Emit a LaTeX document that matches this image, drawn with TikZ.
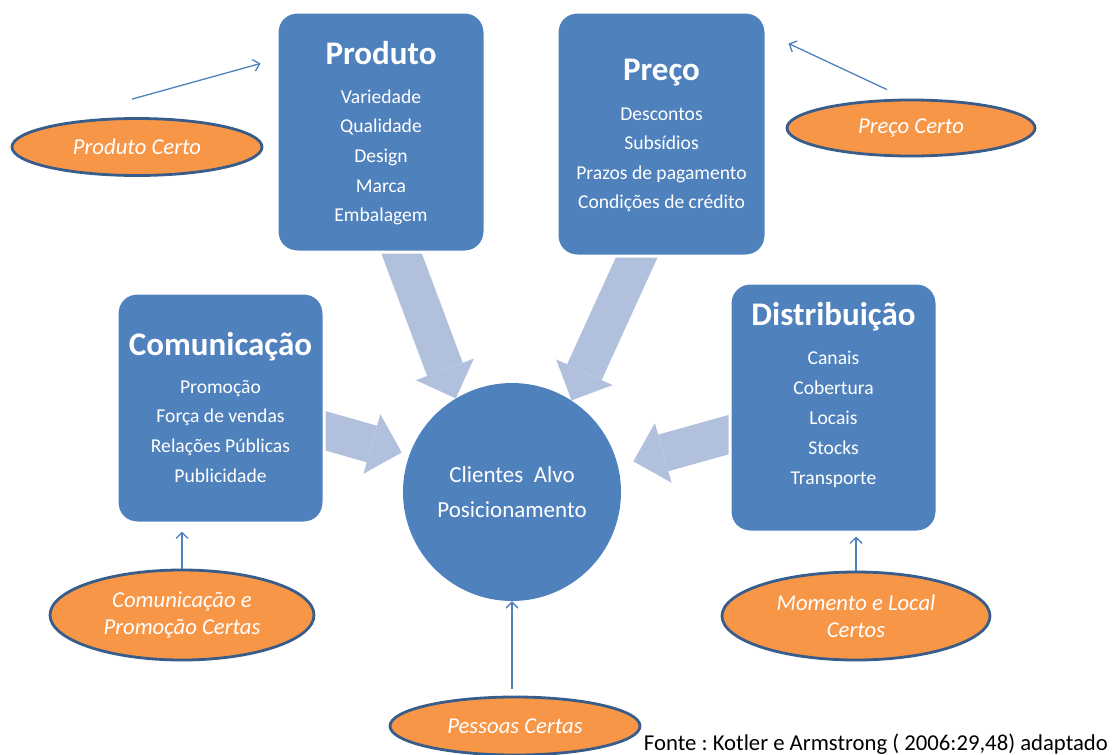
\documentclass[tikz,border=0pt]{standalone}
\usepackage{fontspec}
\setmainfont{Carlito}
\usetikzlibrary{arrows.meta,shapes.geometric}
\definecolor{mixblue}{RGB}{79,129,189}
\definecolor{flowblue}{RGB}{177,193,221}
\definecolor{tagorange}{RGB}{247,150,70}
\definecolor{tagedge}{RGB}{56,93,138}
\pgfdeclarelayer{back}
\pgfsetlayers{back,main}
\frenchspacing
\begin{document}
\begin{tikzpicture}[x=1pt,y=-1pt,
  mixbox/.style={rectangle, draw=white, line width=3pt, fill=mixblue,
    rounded corners=20pt, inner sep=0pt},
  boxtitle/.style={anchor=base, text=white, inner sep=0pt,
    font=\bfseries\fontsize{33}{38}\selectfont},
  boxitem/.style={anchor=base, text=white, inner sep=0pt,
    font=\fontsize{19.6}{23}\selectfont},
  target/.style={circle, fill=mixblue, minimum size=218pt, inner sep=0pt,
    text=white, align=center, font=\fontsize{23}{35}\selectfont},
  tag/.style={ellipse, draw=tagedge, line width=2.8pt, fill=tagorange,
    inner sep=0pt, text=white, align=center,
    font=\itshape\fontsize{22.7}{27}\selectfont},
  flow/.style={draw=flowblue, line width=38pt,
    -{Triangle[width=62pt,length=31pt,line width=0pt]}},
  pointer/.style={draw=mixblue, line width=1.3pt,
    -{Straight Barb[length=6pt,width=12pt]}},
]
\useasboundingbox (0,0) rectangle (1112,755);

% the four marketing-mix boxes
\node[mixbox, minimum width=208pt, minimum height=240pt] (prod) at (381,132) {};
\node[mixbox, minimum width=209pt, minimum height=244pt] (price) at (661.5,134) {};
\node[mixbox, minimum width=207pt, minimum height=230pt] (comm) at (220.5,408) {};
\node[mixbox, minimum width=207pt, minimum height=249pt] (dist) at (833.5,407.5) {};

% box contents
\node[boxtitle] (prod-title) at (381,64) {Produto};
\foreach \t [count=\i from 0] in {Variedade,Qualidade,Design,Marca,Embalagem}
  \node[boxitem] (prod-item\i) at (381,103+29.7*\i) {\t};

\node[boxtitle] (price-title) at (661.5,80) {Preço};
\foreach \t [count=\i from 0] in {Descontos,Subsídios,Prazos de pagamento,Condições de crédito}
  \node[boxitem] (price-item\i) at (661.5,120+29.5*\i) {\t};

\node[boxtitle] (comm-title) at (220.5,355) {Comunicação};
\foreach \t [count=\i from 0] in {Promoção,Força de vendas,Relações Públicas,Publicidade}
  \node[boxitem] (comm-item\i) at (220.5,393+29.7*\i) {\t};

\node[boxtitle] (dist-title) at (833.5,325) {Distribuição};
\foreach \t [count=\i from 0] in {Canais,Cobertura,Locais,Stocks,Transporte}
  \node[boxitem] (dist-item\i) at (833.5,364+30*\i) {\t};

% central target
\node[target] (client) at (512,492) {Clientes~ Alvo\\Posicionamento};

% orange tags
\node[tag, minimum width=250pt, minimum height=57pt] (pc) at (137,147) {Produto Certo};
\node[tag, minimum width=248pt, minimum height=56pt] (pcc) at (911,128) {Preço Certo};
\node[tag, minimum width=264pt, minimum height=90pt] (cpc) at (182,615) {Comunicação e\\Promoção Certas};
\node[tag, minimum width=268pt, minimum height=88pt] (mlc) at (856,616) {Momento e Local\\Certos};
\node[tag, minimum width=250pt, minimum height=58pt] (pes) at (515,726) {Pessoas Certas};

% wide flow arrows into the target, behind the boxes
\begin{pgfonlayer}{back}
  \draw[flow] ([xshift=15pt,yshift=15pt]prod.south) -- (client.121);
  \draw[flow] ([xshift=-18pt,yshift=15pt]price.south) -- (client.57);
  \draw[flow, shorten >=8pt] ([xshift=-17pt,yshift=-18pt]comm.east) -- (client.160);
  \draw[flow, shorten >=16pt] ([xshift=15pt,yshift=-23pt]dist.west) -- (client.14);
\end{pgfonlayer}

% thin pointers from the tags
\coordinate (pc-tail) at ([xshift=-5pt,yshift=18pt]pc.north);
\coordinate (pc-head) at ([xshift=-15pt,yshift=-53pt]prod.north west);
\draw[pointer] (pc-tail) -- (pc-head);
\coordinate (pcc-tail) at ([xshift=-24pt,yshift=9pt]pcc.north);
\coordinate (pcc-head) at ([xshift=21pt,yshift=-33pt]price.north east);
\draw[pointer] (pcc-tail) -- (pcc-head);
\draw[pointer, shorten >=7pt] (cpc.north) -- (cpc.north |- comm.south);
\draw[pointer, shorten >=3pt] (mlc.north) -- (mlc.north |- dist.south);
\draw[pointer, shorten <=7pt] (client.south |- pes.north) -- (client.south);

% source line
\node[anchor=base east, inner sep=0pt, font=\fontsize{22.7}{26}\selectfont] (source)
  at (1108,750) {Fonte : Kotler e Armstrong ( 2006:29,48) adaptado};
\end{tikzpicture}
\end{document}
